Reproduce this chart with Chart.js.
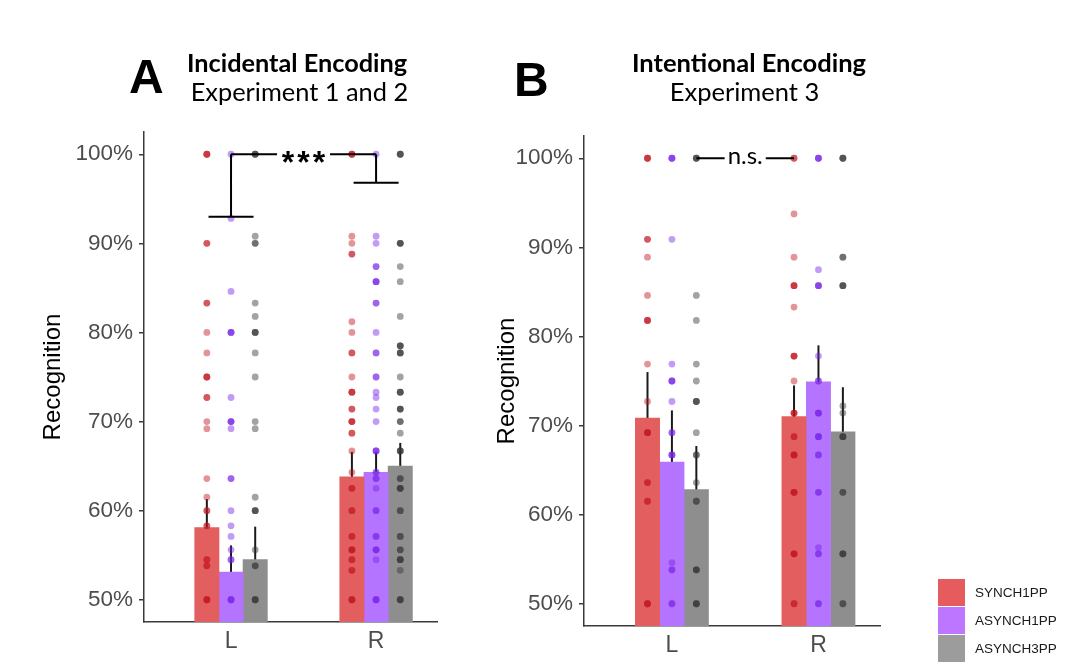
<!DOCTYPE html>
<html><head><meta charset="utf-8">
<script src="https://cdn.jsdelivr.net/npm/chart.js@4.4.1/dist/chart.umd.min.js"></script>
<style>
html,body{margin:0;padding:0;background:#fff;}
#wrap{position:relative;width:1068px;height:669px;overflow:hidden;background:#fff;}
canvas{position:absolute;}
.t{position:absolute;white-space:nowrap;color:#000;line-height:1;}
.lg{position:absolute;left:938px;width:27px;height:27px;}
.lt{position:absolute;left:975px;font-family:'Liberation Sans',Arial,sans-serif;font-size:13.5px;color:#1a1a1a;line-height:27px;white-space:nowrap;}
</style></head><body>
<div id="wrap">
  <canvas id="cA" width="460" height="669" style="left:0;top:0;width:460px;height:669px"></canvas>
  <canvas id="cB" width="608" height="669" style="left:460px;top:0;width:608px;height:669px"></canvas>
  <div class="t" id="tA">A</div>
  <div class="t" id="tA1">Incidental Encoding</div>
  <div class="t" id="tA2">Experiment 1 and 2</div>
  <div class="t" id="tB">B</div>
  <div class="t" id="tB1">Intentional Encoding</div>
  <div class="t" id="tB2">Experiment 3</div>
  <div id="legend"></div>
</div>
<script>
// ---------------- data ----------------
const categories = ['L', 'R'];
const seriesNames = ['SYNCH1PP', 'ASYNCH1PP', 'ASYNCH3PP'];
const yTickValues = [50, 60, 70, 80, 90, 100];

// Panel A: Incidental Encoding (Experiment 1 and 2) — mean recognition (%) for L, R
const meanA_SYNCH1PP  = [58.1, 63.8];
const meanA_ASYNCH1PP = [53.1, 64.3];
const meanA_ASYNCH3PP = [54.5, 65.0];
const seA_SYNCH1PP  = [3.2, 2.8];
const seA_ASYNCH1PP = [3.0, 2.3];
const seA_ASYNCH3PP = [3.7, 2.6];
// individual scores (repeated values = overlapping participants)
const dotsA_SYNCH1PP_L  = [100,100,100,90,90,83.3,83.3,80,77.7,75,75,75,72.7,72.7,70,69.2,63.6,61.5,60,60,58.3,58.3,54.5,54.5,53.8,53.8,50,50,50];
const dotsA_SYNCH1PP_R  = [100,100,100,90.8,90,88.8,88.8,81.2,80,77.7,77.7,75,73.3,73.3,73.3,71.4,71.4,70,70,70,68.7,68.7,66.7,64.3,62.5,62.5,60,60,57.1,57.1,55.6,55.6,55.6,54.5,54.5,53.3,53.3,50,50,50];
const dotsA_ASYNCH1PP_L = [100,92.8,84.6,80,80,80,72.7,70,70,70,69.2,63.6,63.6,60,58.3,57.1,55.6,54.5,54.5,50,50,50];
const dotsA_ASYNCH1PP_R = [100,90.8,90,87.4,87.4,85.7,85.7,85.7,83.3,83.3,80,77.7,77.7,75,75,73.3,72.7,71.4,70,66.7,66.7,66.7,64.3,64.3,63.6,63.6,62.5,60,60,57.1,57.1,55.6,55.6,55.6,54.5,50,50,50];
const dotsA_ASYNCH3PP_L = [100,100,100,90.8,90,90,83.3,81.8,80,80,80,77.7,75,70,69.2,61.5,60,60,60,55.6,53.8,53.8,50,50,50];
const dotsA_ASYNCH3PP_R = [100,100,100,90,90,90,87.4,85.7,81.8,78.5,78.5,78.5,77.7,77.7,77.7,75,73.3,73.3,73.3,71.4,71.4,71.4,70,70,68.7,66.7,66.7,66.7,63.6,63.6,62.5,62.5,62.5,60,60,57.1,57.1,55.6,55.6,54.5,54.5,54.5,53.3,50,50,50];

// Panel B: Intentional Encoding (Experiment 3)
const meanB_SYNCH1PP  = [70.85, 71.0];
const meanB_ASYNCH1PP = [65.9, 74.9];
const meanB_ASYNCH3PP = [62.8, 69.3];
const seB_SYNCH1PP  = [5.15, 3.5];
const seB_ASYNCH1PP = [5.8, 4.1];
const seB_ASYNCH3PP = [4.9, 5.0];
const dotsB_SYNCH1PP_L  = [100,100,100,90.9,90.9,88.9,84.6,81.8,81.8,81.8,76.9,72.7,69.2,69.2,69.2,63.6,63.6,61.5,61.5,50,50,50];
const dotsB_SYNCH1PP_R  = [100,100,93.75,88.9,85.7,85.7,85.7,83.3,77.8,77.8,77.8,75,71.4,71.4,71.4,68.75,68.75,66.7,66.7,66.7,62.5,62.5,62.5,55.6,55.6,55.6,50,50];
const dotsB_ASYNCH1PP_L = [100,100,100,90.9,76.9,75,75,75,72.7,69.2,69.2,66.7,66.7,66.7,54.6,53.8,53.8,50,50];
const dotsB_ASYNCH1PP_R = [100,100,100,87.5,85.7,85.7,85.7,77.8,75,75,71.4,71.4,71.4,68.75,68.75,68.75,66.7,66.7,62.5,62.5,56.3,55.6,55.6,50,50];
const dotsB_ASYNCH3PP_L = [100,100,100,84.6,81.8,76.9,75,72.7,72.7,72.7,69.2,66.7,66.7,63.6,61.5,61.5,53.8,53.8,53.8,50,50,50];
const dotsB_ASYNCH3PP_R = [100,100,100,88.9,88.9,85.7,85.7,85.7,72.2,71.4,68.75,68.75,68.75,62.5,62.5,55.6,55.6,55.6,50,50];

// significance annotations
const sigA = {fromSeries: 1, fromCat: 0, toSeries: 1, toCat: 1, level: 100, dropFrom: 93.0, dropTo: 96.8, label: '***'};
const sigB = {fromSeries: 2, fromCat: 0, toSeries: 0, toCat: 1, level: 100, dropFrom: null, dropTo: null, label: 'n.s.'};

// ---------------- styles ----------------
const barColors = ['#E35E5E', '#B574FF', '#8E8E8E'];
const legendColors = ['#E65C5E', '#BC76FF', '#9C9C9C'];
const dotColors = ['rgba(192,18,28,0.45)', 'rgba(118,34,230,0.45)', 'rgba(50,50,50,0.45)'];
const dodge = [-1/6, 0, 1/6];
const tickFont = {family: "'Liberation Sans', Arial, sans-serif", size: 22.5};

function errorBarPlugin(means, ses) {
  return {
    id: 'errbars',
    beforeDatasetsDraw(chart) {
      const {ctx, scales: {x, y}} = chart;
      ctx.save();
      ctx.strokeStyle = '#1a1a1a';
      ctx.lineWidth = 2;
      means.forEach((m, s) => m.forEach((v, i) => {
        const px = x.getPixelForValue(i + 1 + dodge[s]);
        ctx.beginPath();
        ctx.moveTo(px, y.getPixelForValue(v - ses[s][i]));
        ctx.lineTo(px, y.getPixelForValue(v + ses[s][i]));
        ctx.stroke();
      }));
      ctx.restore();
    }
  };
}

function sigPlugin(sig) {
  return {
    id: 'sig',
    afterDatasetsDraw(chart) {
      const {ctx, scales: {x, y}} = chart;
      const x1 = x.getPixelForValue(sig.fromCat + 1 + dodge[sig.fromSeries]);
      const x2 = x.getPixelForValue(sig.toCat + 1 + dodge[sig.toSeries]);
      const yy = y.getPixelForValue(sig.level);
      const mid = (x1 + x2) / 2;
      ctx.save();
      ctx.strokeStyle = '#000';
      ctx.fillStyle = '#000';
      ctx.lineWidth = 2;
      let half;
      if (sig.label === '***') {
        ctx.font = "bold 32px 'Liberation Sans', Arial, sans-serif";
        ctx.textAlign = 'center';
        ctx.textBaseline = 'alphabetic';
        const step = 15.5;
        [-1, 0, 1].forEach(k => ctx.fillText('*', mid + k * step, yy + 18.5));
        half = step + 11;
      } else {
        ctx.font = "24px Lato, sans-serif";
        ctx.textAlign = 'center';
        ctx.textBaseline = 'alphabetic';
        ctx.fillText(sig.label, mid, yy + 6);
        half = ctx.measureText(sig.label).width / 2 + 3;
      }
      ctx.beginPath();
      ctx.moveTo(x1, yy); ctx.lineTo(mid - half, yy);
      ctx.moveTo(mid + half, yy); ctx.lineTo(x2, yy);
      if (sig.dropFrom !== null) {
        const cap = 22.5;
        const yl = y.getPixelForValue(sig.dropFrom);
        const yr = y.getPixelForValue(sig.dropTo);
        ctx.moveTo(x1, yy); ctx.lineTo(x1, yl);
        ctx.moveTo(x1 - cap, yl); ctx.lineTo(x1 + cap, yl);
        ctx.moveTo(x2, yy); ctx.lineTo(x2, yr);
        ctx.moveTo(x2 - cap, yr); ctx.lineTo(x2 + cap, yr);
      }
      ctx.stroke();
      ctx.restore();
    }
  };
}

function makePanel(canvasId, means, ses, dots, sig, lay) {
  const datasets = [];
  seriesNames.forEach((name, s) => {
    datasets.push({
      type: 'bar', label: name,
      data: categories.map((c, i) => ({x: i + 1 + dodge[s], y: means[s][i]})),
      backgroundColor: barColors[s], borderWidth: 0,
      barThickness: 24.3, grouped: false, order: 3
    });
  });
  seriesNames.forEach((name, s) => {
    const pts = [];
    categories.forEach((c, i) => dots[s][i].forEach(v => pts.push({x: i + 1 + dodge[s], y: v})));
    datasets.push({
      type: 'scatter', label: name + ' points', data: pts,
      pointRadius: 3.4, pointHoverRadius: 3.4, pointBorderWidth: 0,
      backgroundColor: dotColors[s], borderColor: 'rgba(0,0,0,0)', order: 1
    });
  });
  return new Chart(document.getElementById(canvasId), {
    type: 'bar',
    data: {datasets},
    options: {
      responsive: false, animation: false, devicePixelRatio: 1,
      layout: {padding: lay.padding},
      plugins: {legend: {display: false}, tooltip: {enabled: false}},
      scales: {
        x: {
          type: 'linear', min: 0.4, max: 2.42, offset: false,
          afterBuildTicks: sc => { sc.ticks = categories.map((c, i) => ({value: i + 1})); },
          ticks: {callback: v => categories[Math.round(v) - 1] || '', font: {family: tickFont.family, size: 23}, color: '#4d4d4d', padding: 6, autoSkip: false, maxRotation: 0},
          grid: {display: false, drawTicks: false, offset: false},
          border: {display: true, color: '#3a3a3a', width: 1.5},
          afterFit: sc => { sc.height = lay.xHeight; }
        },
        y: {
          min: 47.5, max: 102.5,
          afterBuildTicks: sc => { sc.ticks = yTickValues.map(v => ({value: v})); },
          ticks: {callback: v => v + '%', font: tickFont, color: '#4d4d4d', padding: 6},
          grid: {display: true, drawOnChartArea: false, drawTicks: true, tickLength: 5, color: '#3a3a3a', lineWidth: 1.5},
          border: {display: true, color: '#3a3a3a', width: 1.5},
          title: {display: true, text: 'Recognition', color: '#000', font: {family: tickFont.family, size: 24}, padding: {top: 4, bottom: 4}},
          afterFit: sc => { sc.width = lay.yWidth; }
        }
      }
    },
    plugins: [errorBarPlugin(means, ses), sigPlugin(sig)]
  });
}

makePanel('cA',
  [meanA_SYNCH1PP, meanA_ASYNCH1PP, meanA_ASYNCH3PP],
  [seA_SYNCH1PP, seA_ASYNCH1PP, seA_ASYNCH3PP],
  [[dotsA_SYNCH1PP_L, dotsA_SYNCH1PP_R], [dotsA_ASYNCH1PP_L, dotsA_ASYNCH1PP_R], [dotsA_ASYNCH3PP_L, dotsA_ASYNCH3PP_R]],
  sigA,
  {padding: {left: 35, right: 23, top: 132, bottom: 0}, yWidth: 109, xHeight: 47});

makePanel('cB',
  [meanB_SYNCH1PP, meanB_ASYNCH1PP, meanB_ASYNCH3PP],
  [seB_SYNCH1PP, seB_ASYNCH1PP, seB_ASYNCH3PP],
  [[dotsB_SYNCH1PP_L, dotsB_SYNCH1PP_R], [dotsB_ASYNCH1PP_L, dotsB_ASYNCH1PP_R], [dotsB_ASYNCH3PP_L, dotsB_ASYNCH3PP_R]],
  sigB,
  {padding: {left: 29, right: 188, top: 136, bottom: 0}, yWidth: 95, xHeight: 43});

// ---------------- titles ----------------
const mctx = document.createElement('canvas').getContext('2d');
function placeText(id, weight, family, inkLeft, inkRight, baseline, fixedSize) {
  const el = document.getElementById(id);
  mctx.font = `${weight} 100px ${family}`;
  const m = mctx.measureText(el.textContent);
  const inkW = m.actualBoundingBoxRight + m.actualBoundingBoxLeft;
  const size = fixedSize || 100 * (inkRight - inkLeft) / inkW;
  const k = size / 100;
  const asc = m.fontBoundingBoxAscent * k, desc = m.fontBoundingBoxDescent * k;
  el.style.fontFamily = family;
  el.style.fontWeight = weight;
  el.style.fontSize = size + 'px';
  el.style.lineHeight = size + 'px';
  el.style.left = (inkLeft + m.actualBoundingBoxLeft * k) + 'px';
  el.style.top = (baseline - ((size - (asc + desc)) / 2 + asc)) + 'px';
}
const sansF = "'Liberation Sans', Arial, sans-serif";
placeText('tA', 'bold', sansF, 130, 165, 94, 48);
placeText('tB', 'bold', sansF, 517, 543, 97, 48);
placeText('tA1', 'bold', 'Lato', 189, 407, 73);
placeText('tA2', 'normal', 'Lato', 193, 407, 102);
placeText('tB1', 'bold', 'Lato', 634, 866, 73);
placeText('tB2', 'normal', 'Lato', 672, 818, 102);

// ---------------- legend ----------------
const lg = document.getElementById('legend');
seriesNames.forEach((name, s) => {
  const top = 579 + s * 28;
  const sw = document.createElement('div');
  sw.className = 'lg'; sw.style.top = top + 'px'; sw.style.background = legendColors[s];
  const tx = document.createElement('div');
  tx.className = 'lt'; tx.style.top = top + 'px'; tx.textContent = name;
  lg.appendChild(sw); lg.appendChild(tx);
});
</script>
</body></html>
